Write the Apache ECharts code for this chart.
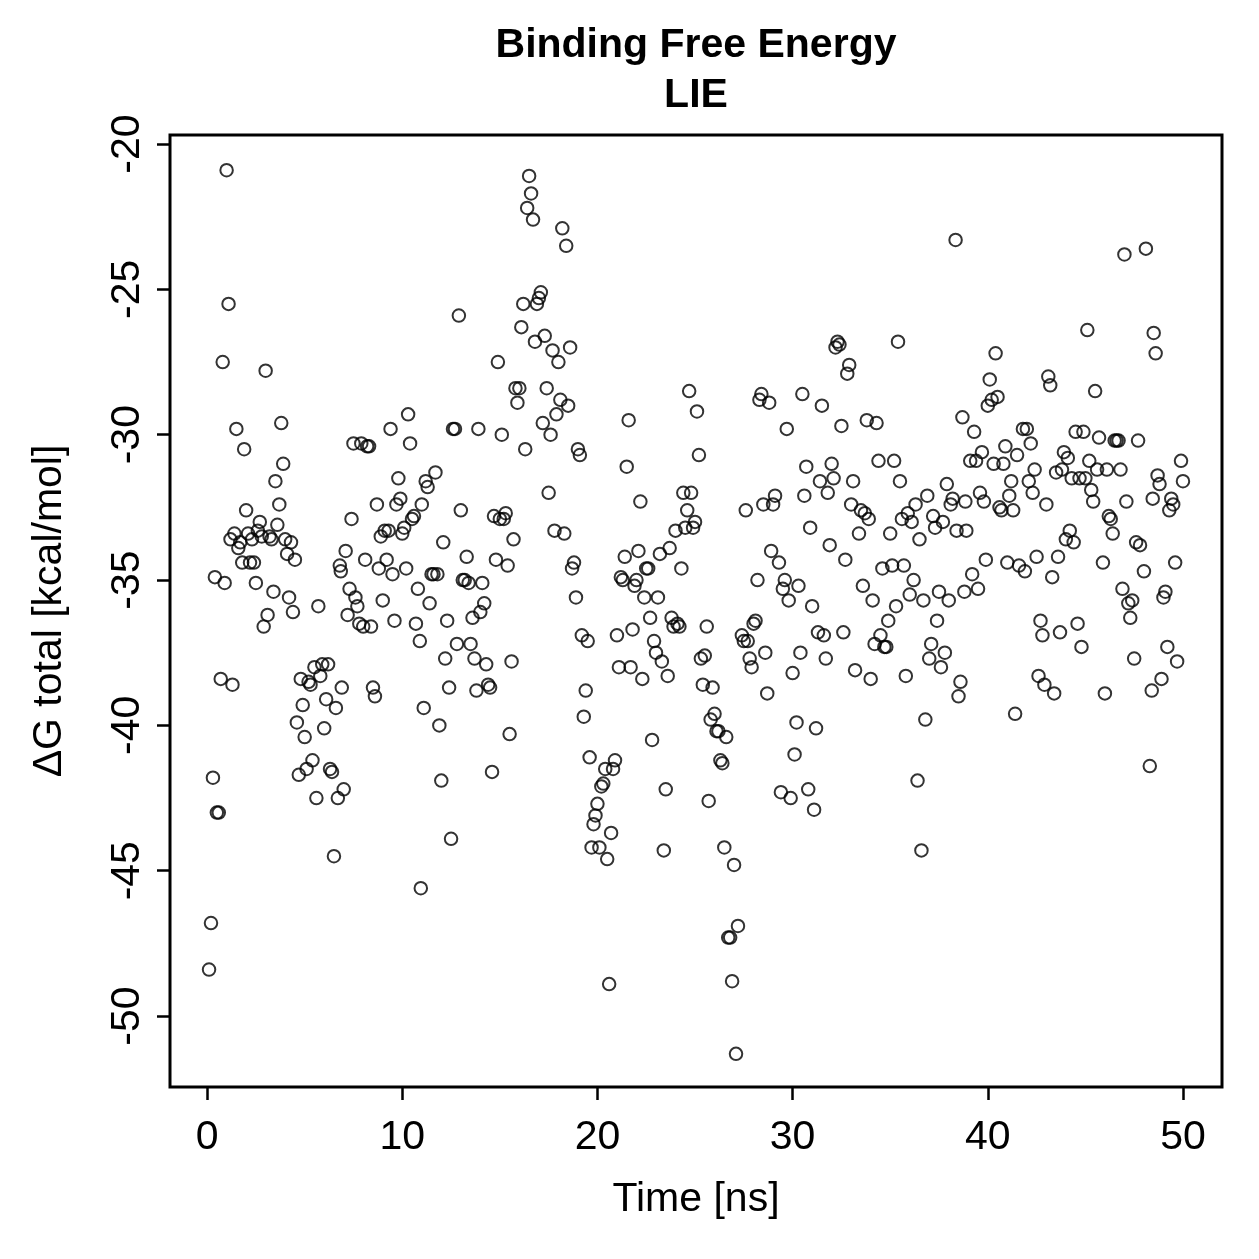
<!DOCTYPE html>
<html>
<head>
<meta charset="utf-8">
<script src="https://cdn.jsdelivr.net/npm/echarts@6/dist/echarts.min.js"></script>
<style>
html, body { margin: 0; padding: 0; background: #fff; }
#chart { width: 1259px; height: 1259px; }
</style>
</head>
<body>
<div id="chart"></div>
<script>
// [time (ns), dG total (kcal/mol)], split by 10 ns
const block0to10 = [
  [0.1,-48.4],[0.2,-46.8],[0.3,-41.8],[0.4,-34.9],[0.5,-43.0],[0.6,-43.0],[0.7,-38.4],[0.8,-27.5],[0.9,-35.1],[1.0,-20.9],
  [1.1,-25.5],[1.2,-33.6],[1.3,-38.6],[1.4,-33.4],[1.5,-29.8],[1.6,-33.9],[1.7,-33.7],[1.8,-34.4],[1.9,-30.5],[2.0,-32.6],
  [2.1,-33.4],[2.2,-34.4],[2.3,-33.6],[2.4,-34.4],[2.5,-35.1],[2.6,-33.3],[2.7,-33.0],[2.8,-33.5],[2.9,-36.6],[3.0,-27.8],
  [3.1,-36.2],[3.2,-33.5],[3.3,-33.6],[3.4,-35.4],[3.5,-31.6],[3.6,-33.1],[3.7,-32.4],[3.8,-29.6],[3.9,-31.0],[4.0,-33.6],
  [4.1,-34.1],[4.2,-35.6],[4.3,-33.7],[4.4,-36.1],[4.5,-34.3],[4.6,-39.9],[4.7,-41.7],[4.8,-38.4],[4.9,-39.3],[5.0,-40.4],
  [5.1,-41.5],[5.2,-38.5],[5.3,-38.6],[5.4,-41.2],[5.5,-38.0],[5.6,-42.5],[5.7,-35.9],[5.8,-38.3],[5.9,-37.9],[6.0,-40.1],
  [6.1,-39.1],[6.2,-37.9],[6.3,-41.5],[6.4,-41.6],[6.5,-44.5],[6.6,-39.4],[6.7,-42.5],[6.8,-34.5],[6.85,-34.7],[6.9,-38.7],[7.0,-42.2],
  [7.1,-34.0],[7.2,-36.2],[7.3,-35.3],[7.4,-32.9],[7.5,-30.3],[7.6,-35.6],[7.7,-35.9],[7.8,-36.5],[7.9,-30.3],[8.0,-36.6],
  [8.1,-34.3],[8.2,-30.4],[8.3,-30.4],[8.4,-36.6],[8.5,-38.7],[8.6,-39.0],[8.7,-32.4],[8.8,-34.6],[8.9,-33.5],[9.0,-35.7],
  [9.1,-33.3],[9.2,-34.3],[9.3,-33.3],[9.4,-29.8],[9.5,-34.8],[9.6,-36.4],[9.7,-32.4],[9.8,-31.5],[9.9,-32.2],[10.0,-33.4]
]
const block10to20 = [
  [10.1,-33.2],[10.2,-34.6],[10.3,-29.3],[10.4,-30.3],[10.5,-32.9],[10.6,-32.8],[10.7,-36.5],[10.8,-35.3],[10.9,-37.1],[10.95,-45.6],[11.0,-32.4],
  [11.1,-39.4],[11.2,-31.6],[11.3,-31.8],[11.4,-35.8],[11.5,-34.8],[11.6,-34.8],[11.7,-31.3],[11.8,-34.8],[11.9,-40.0],[12.0,-41.9],
  [12.1,-33.7],[12.2,-37.7],[12.3,-36.4],[12.4,-38.7],[12.5,-43.9],[12.6,-29.8],[12.7,-29.8],[12.8,-37.2],[12.9,-25.9],[13.0,-32.6],
  [13.1,-35.0],[13.2,-35.0],[13.3,-34.2],[13.4,-35.1],[13.5,-37.2],[13.6,-36.3],[13.7,-37.7],[13.8,-38.8],[13.9,-29.8],[14.0,-36.1],
  [14.1,-35.1],[14.2,-35.8],[14.3,-37.9],[14.4,-38.6],[14.5,-38.7],[14.6,-41.6],[14.7,-32.8],[14.8,-34.3],[14.9,-27.5],[15.0,-32.9],
  [15.1,-30.0],[15.2,-32.9],[15.3,-32.7],[15.4,-34.5],[15.5,-40.3],[15.6,-37.8],[15.7,-33.6],[15.8,-28.4],[15.9,-28.9],[16.0,-28.4],
  [16.1,-26.3],[16.2,-25.5],[16.3,-30.5],[16.4,-22.2],[16.5,-21.1],[16.6,-21.7],[16.7,-22.6],[16.8,-26.8],[16.9,-25.5],[17.0,-25.3],
  [17.1,-25.1],[17.2,-29.6],[17.3,-26.6],[17.4,-28.4],[17.5,-32.0],[17.6,-30.0],[17.7,-27.1],[17.8,-33.3],[17.9,-29.3],[18.0,-27.5],
  [18.1,-28.8],[18.2,-22.9],[18.3,-33.4],[18.4,-23.5],[18.5,-29.0],[18.6,-27.0],[18.7,-34.6],[18.8,-34.4],[18.9,-35.6],[19.0,-30.5],
  [19.1,-30.7],[19.2,-36.9],[19.3,-39.7],[19.4,-38.8],[19.5,-37.1],[19.6,-41.1],[19.7,-44.2],[19.8,-43.4],[19.9,-43.1],[20.0,-42.7]
]
const block20to30 = [
  [20.1,-44.2],[20.2,-42.1],[20.3,-42.0],[20.4,-41.5],[20.5,-44.6],[20.6,-48.9],[20.7,-43.7],[20.8,-41.5],[20.9,-41.2],[21.0,-36.9],
  [21.1,-38.0],[21.2,-34.9],[21.3,-35.0],[21.4,-34.2],[21.5,-31.1],[21.6,-29.5],[21.7,-38.0],[21.8,-36.7],[21.9,-35.2],[22.0,-35.0],
  [22.1,-34.0],[22.2,-32.3],[22.3,-38.4],[22.4,-35.6],[22.5,-34.6],[22.6,-34.6],[22.7,-36.3],[22.8,-40.5],[22.9,-37.1],[23.0,-37.5],
  [23.1,-35.6],[23.2,-34.1],[23.3,-37.8],[23.4,-44.3],[23.5,-42.2],[23.6,-38.3],[23.7,-33.9],[23.8,-36.3],[23.9,-36.6],[24.0,-33.3],
  [24.1,-36.5],[24.2,-36.6],[24.3,-34.6],[24.4,-32.0],[24.5,-33.2],[24.6,-32.6],[24.7,-28.5],[24.8,-32.0],[24.9,-33.2],[25.0,-33.0],
  [25.1,-29.2],[25.2,-30.7],[25.3,-37.7],[25.4,-38.6],[25.5,-37.6],[25.6,-36.6],[25.7,-42.6],[25.8,-39.8],[25.9,-38.7],[26.0,-39.6],
  [26.1,-40.2],[26.2,-40.2],[26.3,-41.2],[26.4,-41.3],[26.5,-44.2],[26.6,-40.4],[26.7,-47.3],[26.8,-47.3],[26.9,-48.8],[27.0,-44.8],
  [27.1,-51.3],[27.2,-46.9],[27.4,-36.9],[27.5,-37.1],[27.6,-32.6],[27.7,-37.1],[27.8,-37.7],[27.9,-38.0],[28.0,-36.5],
  [28.1,-36.4],[28.2,-35.0],[28.3,-28.8],[28.4,-28.6],[28.5,-32.4],[28.6,-37.5],[28.7,-38.9],[28.8,-28.9],[28.9,-34.0],[29.0,-32.4],
  [29.1,-32.1],[29.3,-34.4],[29.4,-42.3],[29.5,-35.3],[29.6,-35.0],[29.7,-29.8],[29.8,-35.7],[29.9,-42.5],[30.0,-38.2]
]
const block30to40 = [
  [30.1,-41.0],[30.2,-39.9],[30.3,-35.2],[30.4,-37.5],[30.5,-28.6],[30.6,-32.1],[30.7,-31.1],[30.8,-42.2],[30.9,-33.2],[31.0,-35.9],
  [31.1,-42.9],[31.2,-40.1],[31.3,-36.8],[31.4,-31.6],[31.5,-29.0],[31.6,-36.9],[31.7,-37.7],[31.8,-32.0],[31.9,-33.8],[32.0,-31.0],
  [32.1,-31.5],[32.2,-27.0],[32.3,-26.8],[32.4,-26.9],[32.5,-29.7],[32.6,-36.8],[32.7,-34.3],[32.8,-27.9],[32.9,-27.6],[33.0,-32.4],
  [33.1,-31.6],[33.2,-38.1],[33.4,-33.4],[33.5,-32.6],[33.6,-35.2],[33.7,-32.7],[33.8,-29.5],[33.9,-32.9],[34.0,-38.4],
  [34.1,-35.7],[34.2,-37.2],[34.3,-29.6],[34.4,-30.9],[34.5,-36.9],[34.6,-34.6],[34.7,-37.3],[34.8,-37.3],[34.9,-36.4],[35.0,-33.4],
  [35.1,-34.5],[35.2,-30.9],[35.3,-35.9],[35.4,-26.8],[35.5,-31.6],[35.6,-32.9],[35.7,-34.5],[35.8,-38.3],[35.9,-32.7],[36.0,-35.5],
  [36.1,-33.0],[36.2,-35.0],[36.3,-32.4],[36.4,-41.9],[36.5,-33.6],[36.6,-44.3],[36.7,-35.7],[36.8,-39.8],[36.9,-32.1],[37.0,-37.7],
  [37.1,-37.2],[37.2,-32.8],[37.3,-33.2],[37.4,-36.4],[37.5,-35.4],[37.6,-38.0],[37.7,-33.0],[37.8,-37.5],[37.9,-31.7],[38.0,-35.7],
  [38.1,-32.4],[38.2,-32.2],[38.35,-23.3],[38.4,-33.3],[38.5,-39.0],[38.6,-38.5],[38.7,-29.4],[38.8,-35.4],[38.85,-32.3],[38.9,-33.3],
  [39.1,-30.9],[39.2,-34.8],[39.3,-29.9],[39.4,-30.9],[39.5,-35.3],[39.6,-32.0],[39.7,-30.6],[39.8,-32.3],[39.9,-34.3],[40.0,-29.0]
]
const block40to50 = [
  [40.1,-28.1],[40.2,-28.8],[40.3,-31.0],[40.4,-27.2],[40.5,-28.7],[40.6,-32.5],[40.7,-32.6],[40.8,-31.0],[40.9,-30.4],[41.0,-34.4],
  [41.1,-32.1],[41.2,-31.6],[41.3,-32.6],[41.4,-39.6],[41.5,-30.7],[41.6,-34.5],[41.8,-29.8],[41.9,-34.7],[42.0,-29.8],
  [42.1,-31.6],[42.2,-30.3],[42.3,-32.0],[42.4,-31.2],[42.5,-34.2],[42.6,-38.3],[42.7,-36.4],[42.8,-36.9],[42.9,-38.6],[43.0,-32.4],
  [43.1,-28.0],[43.2,-28.3],[43.3,-34.9],[43.4,-38.9],[43.5,-31.3],[43.6,-34.2],[43.7,-36.8],[43.8,-31.2],[43.9,-30.6],[44.0,-33.6],
  [44.1,-30.8],[44.2,-33.3],[44.3,-31.5],[44.4,-33.7],[44.5,-29.9],[44.6,-36.5],[44.7,-31.5],[44.8,-37.3],[44.9,-29.9],[45.0,-31.5],
  [45.1,-26.4],[45.2,-30.9],[45.3,-31.9],[45.4,-32.3],[45.5,-28.5],[45.6,-31.2],[45.7,-30.1],[45.9,-34.4],[46.0,-38.9],
  [46.1,-31.2],[46.2,-32.8],[46.3,-32.9],[46.4,-33.4],[46.5,-30.2],[46.6,-30.2],[46.7,-30.2],[46.8,-31.2],[46.9,-35.3],[47.0,-23.8],
  [47.1,-32.3],[47.2,-35.8],[47.3,-36.3],[47.4,-35.7],[47.5,-37.7],[47.6,-33.7],[47.7,-30.2],[47.8,-33.8],[48.0,-34.7],
  [48.1,-23.6],[48.3,-41.4],[48.4,-38.8],[48.45,-32.2],[48.5,-26.5],[48.6,-27.2],[48.7,-31.4],[48.8,-31.7],[48.9,-38.4],[49.0,-35.6],
  [49.1,-35.4],[49.2,-37.3],[49.3,-32.6],[49.4,-32.2],[49.5,-32.4],[49.6,-34.4],[49.7,-37.8],[49.9,-30.9],[50.0,-31.6]
]

const xTicks = [0, 10, 20, 30, 40, 50]
const yTicks = [-50, -45, -40, -35, -30, -25, -20]

const points = block0to10.concat(block10to20, block20to30, block30to40, block40to50)

const font = 'Liberation Sans, Arial, sans-serif'
let myChart = echarts.init(document.getElementById('chart'))
let option = {
    backgroundColor: '#fff',
    animation: false,
    textStyle: { fontFamily: font },
    graphic: [
        { type: 'text', x: 696, y: 46, style: { text: 'Binding Free Energy', font: 'bold 41px ' + font, fill: '#000', align: 'center', verticalAlign: 'middle' } },
        { type: 'text', x: 696, y: 96, style: { text: 'LIE', font: 'bold 41px ' + font, fill: '#000', align: 'center', verticalAlign: 'middle' } },
        // plot frame, like R's box()
        { type: 'rect', x: 170, y: 135, z: 10, shape: { x: 0, y: 0, width: 1052, height: 952 }, style: { fill: null, stroke: '#000', lineWidth: 3 } }
    ],
    grid: {
        left: 170, top: 135, right: 37, bottom: 172
    },
    xAxis: {
        type: 'value',
        min: -1.9,
        max: 52.0,
        name: 'Time [ns]',
        nameLocation: 'middle',
        nameGap: 92,
        nameTextStyle: { fontSize: 41, color: '#000', fontFamily: font },
        axisLine: { show: false, onZero: false },
        splitLine: { show: false },
        axisTick: { show: true, length: 13, lineStyle: { color: '#000', width: 2.5 }, customValues: xTicks },
        axisLabel: { fontSize: 41, color: '#000', margin: 30, customValues: xTicks }
    },
    yAxis: {
        type: 'value',
        min: -52.44,
        max: -19.69,
        name: 'ΔG total [kcal/mol]',
        nameLocation: 'middle',
        nameGap: 100,
        nameTextStyle: { fontSize: 41, color: '#000', fontFamily: font },
        axisLine: { show: false, onZero: false },
        splitLine: { show: false },
        axisTick: { show: true, length: 13, lineStyle: { color: '#000', width: 2.5 }, customValues: yTicks },
        axisLabel: { fontSize: 41, color: '#000', margin: 22, rotate: 90, customValues: yTicks }
    },
    series: [
        {
            type: 'scatter',
            data: points,
            symbol: 'circle',
            symbolSize: 12.5,
            itemStyle: { color: 'rgba(0,0,0,0)', borderColor: '#000', borderWidth: 2 },
            emphasis: { disabled: true }
        }
    ]
}
myChart.setOption(option)
</script>
</body>
</html>
